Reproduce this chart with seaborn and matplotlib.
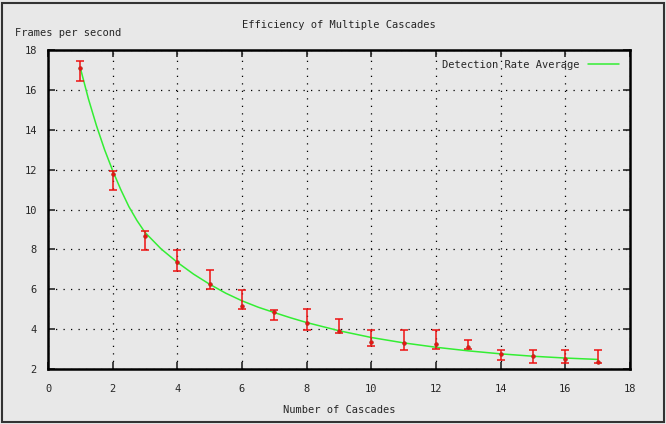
import numpy as np
import pandas as pd
import matplotlib
matplotlib.use("Agg")
import matplotlib.pyplot as plt
import seaborn as sns
from matplotlib.patches import Rectangle

# measured frame rates (with min / max) per number of cascades
cascades = [1, 2, 3, 4, 5, 6, 7, 8, 9, 10, 11, 12, 13, 14, 15, 16, 17]
fps_mean = [17.08, 11.8, 8.67, 7.38, 6.25, 5.16, 4.85, 4.29, 3.91, 3.37, 3.32,
            3.26, 3.09, 2.76, 2.66, 2.49, 2.37]
fps_low = [16.46, 10.98, 7.97, 6.93, 6.0, 4.99, 4.46, 3.96, 3.79, 3.16, 2.96,
           2.99, 2.99, 2.45, 2.32, 2.32, 2.32]
fps_high = [17.46, 11.93, 8.94, 7.97, 6.97, 5.96, 4.96, 4.99, 4.49, 3.96, 3.96,
            3.96, 3.43, 2.96, 2.96, 2.96, 2.96]

# average curve
curve_x = [1, 1.25, 1.5, 1.75, 2, 2.25, 2.5, 2.75, 3, 3.5, 4, 4.5, 5, 5.5, 6,
           6.5, 7, 7.5, 8, 9, 10, 11, 12, 13, 14, 15, 16, 17]
curve_y = [17.1, 15.55, 14.2, 13.0, 11.95, 11.0, 10.15, 9.45, 8.85, 8.02, 7.35,
           6.76, 6.25, 5.8, 5.42, 5.1, 4.83, 4.57, 4.33, 3.92, 3.58, 3.31, 3.09,
           2.91, 2.76, 2.64, 2.55, 2.48]

xticks = [0, 2, 4, 6, 8, 10, 12, 14, 16, 18]
yticks = [2, 4, 6, 8, 10, 12, 14, 16, 18]

bg = "#e8e8e8"
sns.set_style("ticks")
plt.rcParams["font.family"] = ["DejaVu Sans Mono"]
plt.rcParams["font.size"] = 7

fig = plt.figure(figsize=(6.66, 4.24), dpi=100, facecolor=bg)
ax = fig.add_axes([48 / 666, 55 / 424, 582 / 666, 319 / 424])
ax.set_facecolor(bg)

pts = pd.DataFrame({"x": cascades, "y": fps_mean})
lo = np.array(fps_mean) - np.array(fps_low)
hi = np.array(fps_high) - np.array(fps_mean)

curve = pd.DataFrame({"x": curve_x, "y": curve_y})
sns.lineplot(data=curve, x="x", y="y", ax=ax, color="#33ee33", lw=1.1,
             label="Detection Rate Average", zorder=3)

ax.errorbar(cascades, fps_mean, yerr=[lo, hi], fmt="none", ecolor="#ee1111",
            elinewidth=1.1, capsize=3, capthick=1.1, zorder=4)
sns.scatterplot(data=pts, x="x", y="y", ax=ax, marker="o", s=7,
                color="#ee1111", edgecolor="#aa3322", linewidth=0.5,
                zorder=5, legend=False)

ax.set_xlim(0, 18)
ax.set_ylim(2, 18)
ax.set_xticks(xticks)
ax.set_yticks(yticks)
ax.grid(True, color="black", linestyle=(0, (1, 5)), linewidth=0.9)
ax.tick_params(direction="in", length=5, width=1.2, top=True, right=True,
               labelsize=7.5)
ax.tick_params(axis="x", pad=11)
ax.tick_params(axis="y", pad=8)
for s in ax.spines.values():
    s.set_linewidth(1.8)
    s.set_color("black")

ax.set_xlabel("Number of Cascades", fontsize=7.5, labelpad=8)
ax.set_ylabel("")
fig.text(15 / 666, 1 - 33 / 424, "Frames per second", fontsize=7.5,
         ha="left", va="center")
fig.text(339 / 666, 1 - 25 / 424, "Efficiency of Multiple Cascades",
         fontsize=7.5, ha="center", va="center")

leg = ax.legend(loc="upper right", frameon=False, markerfirst=False,
                handlelength=3, fontsize=7.5, borderaxespad=0.4,
                bbox_to_anchor=(0.995, 0.995))

fig.add_artist(Rectangle((2 / 666, 2 / 424), 662 / 666, 419 / 424,
                         transform=fig.transFigure, fill=False,
                         edgecolor="#333333", linewidth=1.5))

fig.savefig("out.png", dpi=100, facecolor=bg)
